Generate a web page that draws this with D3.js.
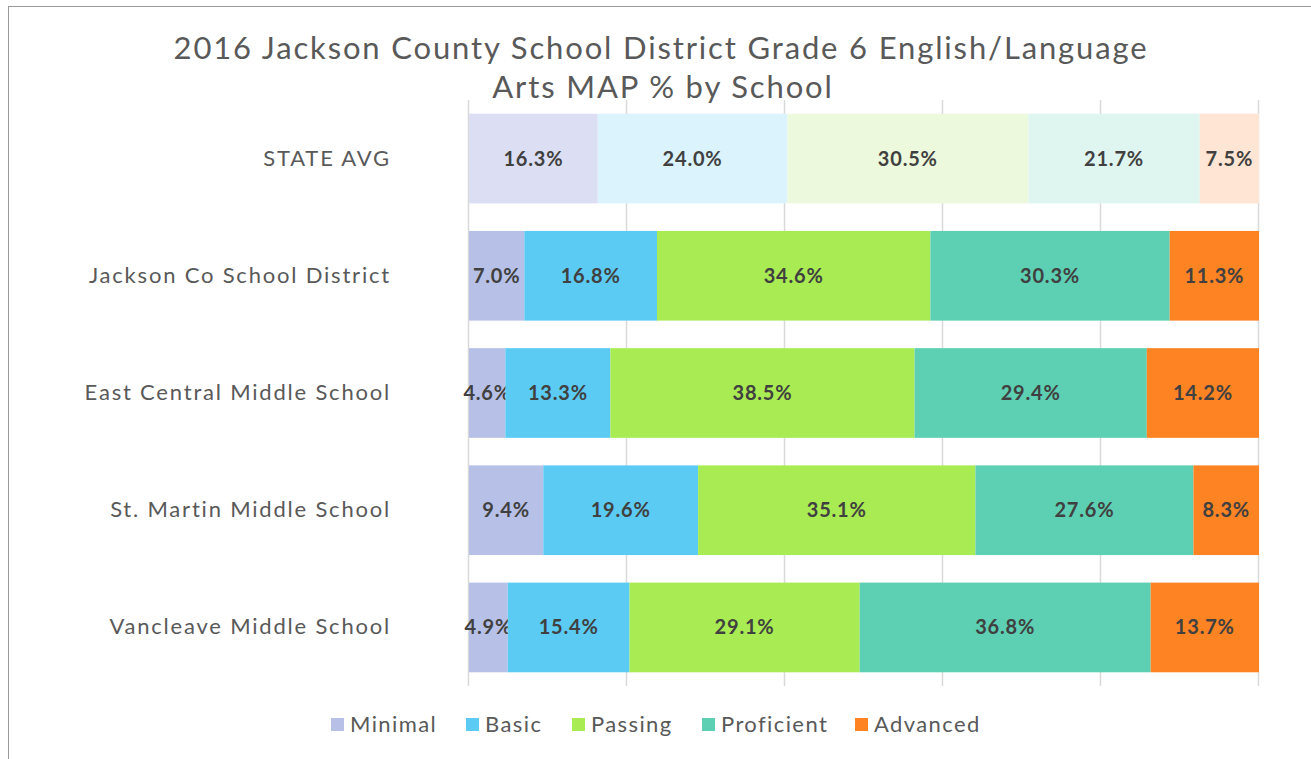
<!DOCTYPE html>
<html>
<head>
<meta charset="utf-8">
<script src="https://cdn.jsdelivr.net/npm/d3@7"></script>
<style>
  body { margin: 0; background: #fff; }
  text { font-family: "Lato", "Open Sans", sans-serif; }
</style>
</head>
<body>
<div id="container"></div>
<script>
/* CONSTANTS AND GLOBALS */
const width = 1311;
const height = 759;

/* DATA */
const schools = ["STATE AVG", "Jackson Co School District", "East Central Middle School", "St. Martin Middle School", "Vancleave Middle School"];
const levels = ["Minimal", "Basic", "Passing", "Proficient", "Advanced"];
const minimal = [16.3, 7.0, 4.6, 9.4, 4.9];
const basic = [24.0, 16.8, 13.3, 19.6, 15.4];
const passing = [30.5, 34.6, 38.5, 35.1, 29.1];
const proficient = [21.7, 30.3, 29.4, 27.6, 36.8];
const advanced = [7.5, 11.3, 14.2, 8.3, 13.7];
const gridTicks = [0, 0.2, 0.4, 0.6, 0.8, 1];

const colors = ["#b7c0e7", "#5ccbf3", "#a9eb53", "#5dcfb3", "#fe8323"];
const stateColors = ["#dcdff3", "#dbf3fc", "#ecf9dc", "#dff5ef", "#ffe5d3"];

const series = [minimal, basic, passing, proficient, advanced];
const table = schools.map((s, i) => {
  const row = { school: s };
  levels.forEach((l, j) => row[l] = series[j][i]);
  return row;
});

const stacked = d3.stack().keys(levels).offset(d3.stackOffsetExpand)(table);

/* SCALES */
const xScale = d3.scaleLinear().domain([0, 1]).range([468, 1258]);
const yScale = d3.scaleBand()
  .domain(schools)
  .range([100, 686])
  .paddingInner(0.235)
  .paddingOuter(0.117);

/* HTML ELEMENTS */
const svg = d3.select("#container")
  .append("svg")
  .attr("width", width)
  .attr("height", height);

// frame
svg.append("rect")
  .attr("x", 8.5).attr("y", 6.5)
  .attr("width", 1320).attr("height", 800)
  .attr("fill", "none")
  .attr("stroke", "#9a9a9a")
  .attr("stroke-width", 1);

// title
svg.append("text")
  .attr("x", 661).attr("y", 59)
  .attr("text-anchor", "middle")
  .attr("font-size", 31)
  .attr("letter-spacing", 1.85)
  .attr("fill", "#595959")
  .text("2016 Jackson County School District Grade 6 English/Language");
svg.append("text")
  .attr("x", 663).attr("y", 98)
  .attr("text-anchor", "middle")
  .attr("font-size", 31)
  .attr("letter-spacing", 1.85)
  .attr("fill", "#595959")
  .text("Arts MAP % by School");

// gridlines
const xAxis = d3.axisBottom(xScale).tickValues(gridTicks).tickSize(-586).tickFormat("");
svg.append("g")
  .attr("transform", "translate(0,686)")
  .call(xAxis)
  .call(g => g.select(".domain").remove())
  .call(g => g.selectAll(".tick line").attr("stroke", "#d9d9d9").attr("stroke-width", 1.5));

// category labels
const yAxis = d3.axisLeft(yScale).tickSize(0).tickPadding(0);
svg.append("g")
  .attr("transform", "translate(391,0)")
  .call(yAxis)
  .call(g => g.select(".domain").remove())
  .call(g => g.selectAll(".tick text")
    .attr("font-size", 22)
    .attr("letter-spacing", 1.8)
    .attr("fill", "#595959")
    .style("font-family", "Lato, sans-serif"));

// bars
const layers = svg.selectAll(".layer")
  .data(stacked)
  .join("g")
  .attr("class", "layer");

layers.selectAll("rect")
  .data((d, j) => d.map(v => ({ v, j })))
  .join("rect")
  .attr("x", d => xScale(d.v[0]) + 1)
  .attr("y", d => yScale(d.v.data.school))
  .attr("width", d => xScale(d.v[1]) - xScale(d.v[0]))
  .attr("height", yScale.bandwidth())
  .attr("fill", d => d.v.data.school === "STATE AVG" ? stateColors[d.j] : colors[d.j]);

// labels
layers.selectAll(".label")
  .data((d, j) => d.map(v => ({ v, key: levels[j] })))
  .join("text")
  .attr("class", "label")
  .attr("x", d => (xScale(d.v[0]) + xScale(d.v[1])) / 2 + 1)
  .attr("y", d => yScale(d.v.data.school) + yScale.bandwidth() / 2 + 7)
  .attr("text-anchor", "middle")
  .attr("font-size", 20)
  .attr("font-weight", "bold")
  .attr("letter-spacing", 0.8)
  .attr("fill", "#404040")
  .text(d => d.v.data[d.key].toFixed(1) + "%");

// legend
const legendX = [331, 466, 572, 702, 855];
const legend = svg.selectAll(".legend")
  .data(levels)
  .join("g")
  .attr("class", "legend")
  .attr("transform", (d, i) => `translate(${legendX[i]},718)`);
legend.append("rect")
  .attr("width", 13).attr("height", 13)
  .attr("fill", (d, i) => colors[i]);
legend.append("text")
  .attr("x", 19).attr("y", 14)
  .attr("font-size", 22)
  .attr("letter-spacing", 1.4)
  .attr("fill", "#595959")
  .text(d => d);
</script>
</body>
</html>
